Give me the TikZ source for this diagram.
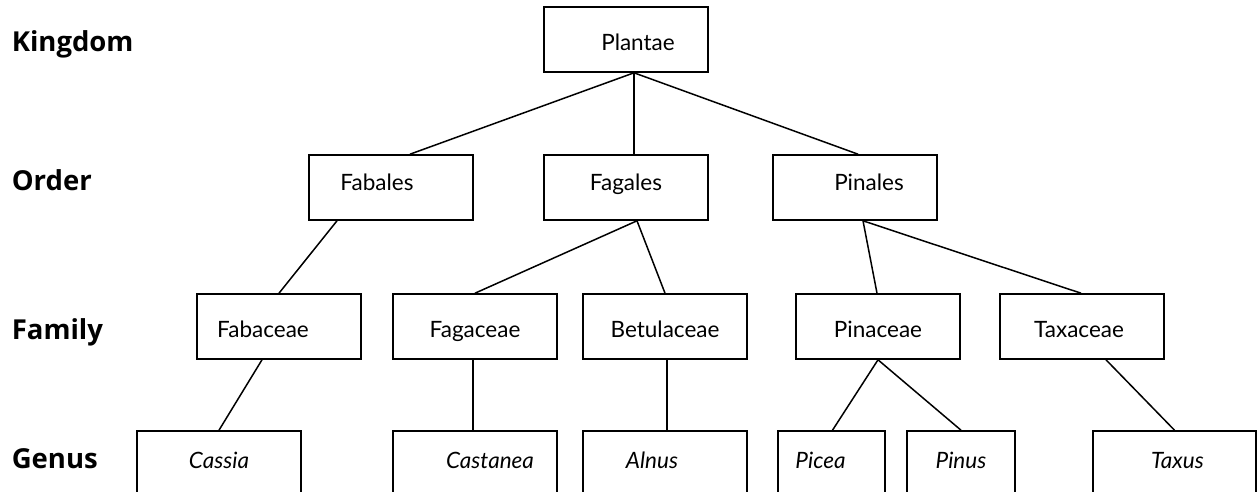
\documentclass[tikz,border=0pt]{standalone}
\usepackage{fontspec}
\setmainfont{Lato}
\newfontfamily\rankfont{Open Sans}
\newcommand\nudge[3]{\hspace*{#1pt}\raisebox{#2pt}{#3}\hspace*{-#1pt}}

\begin{document}
\begin{tikzpicture}[x = 1pt, y = -1pt, every node/.style = {draw = black,
	line width = 1.6pt, minimum width = 164pt, minimum height = 65pt,
	inner sep = 0pt, text height = 16pt, text depth = 0pt,
	font = \fontsize{22.5}{26}\selectfont},
	rank/.style = {draw = none, minimum width = 0pt, minimum height = 0pt,
	anchor = base west, font = \rankfont\bfseries\fontsize{27.5}{32}\selectfont}]

	\useasboundingbox (0, 0) rectangle (1258, 492);

		% ranks
		\node (kingdom) at (11,  51.7) [rank] {Kingdom};
		\node (order)   at (11, 190.7) [rank] {Order};
		\node (family)  at (11, 339)   [rank] {Family};
		\node (genus)   at (11, 468)   [rank] {Genus};

		% taxa
		\node (plantae)    at ( 626,  39.5) {\nudge{12}{-3}{Plantae}};
		\node (fabales)    at ( 391, 187.5) {\nudge{-14}{5}{Fabales}};
		\node (fagales)    at ( 626, 187.5) {\nudge{0}{5}{Fagales}};
		\node (pinales)    at ( 855, 187.5) {\nudge{14}{5}{Pinales}};
		\node (fabaceae)   at ( 279, 326.5) {\nudge{-16}{-2.5}{Fabaceae}};
		\node (fagaceae)   at ( 475, 326.5) {\nudge{0}{-2.5}{Fagaceae}};
		\node (betulaceae) at ( 665, 326.5) {\nudge{0}{-2.5}{Betulaceae}};
		\node (pinaceae)   at ( 878, 326.5) {\nudge{0}{-2.5}{Pinaceae}};
		\node (taxaceae)   at (1082, 326.5) {\nudge{-3}{-2.5}{Taxaceae}};
		\node (cassia)     at ( 219, 463.5) {\nudge{0}{3}{\itshape Cassia}};
		\node (castanea)   at ( 475, 463.5) {\nudge{15}{3}{\itshape Castanea}};
		\node (alnus)      at ( 665, 463.5) {\nudge{-13}{3}{\itshape Alnus}};
		\node (picea)      at (831.5, 463.5) [minimum width = 107pt] {\nudge{-11}{3}{\itshape Picea}};
		\node (pinus)      at ( 961, 463.5) [minimum width = 108pt] {\nudge{0}{3}{\itshape Pinus}};
		\node (taxus)      at (1174.5, 463.5) [minimum width = 163pt] {\nudge{3}{3}{\itshape Taxus}};

	    \foreach \from/\fa/\to/\ta in {plantae/8/fabales/19, plantae/8/fagales/8, plantae/8/pinales/3,
	    	fabales/-54/fabaceae/0, fagales/11/fagaceae/0, fagales/11/betulaceae/0,
	    	pinales/8/pinaceae/-1, pinales/8/taxaceae/-1, fabaceae/-17/cassia/0,
	    	fagaceae/-2/castanea/-2, betulaceae/2/alnus/2, pinaceae/0/picea/1,
	    	pinaceae/0/pinus/0, taxaceae/24/taxus/0}
	    	\draw[line width = 1.5pt] ([xshift = \fa]\from.south) -- ([xshift = \ta]\to.north);

\end{tikzpicture}
\end{document}
